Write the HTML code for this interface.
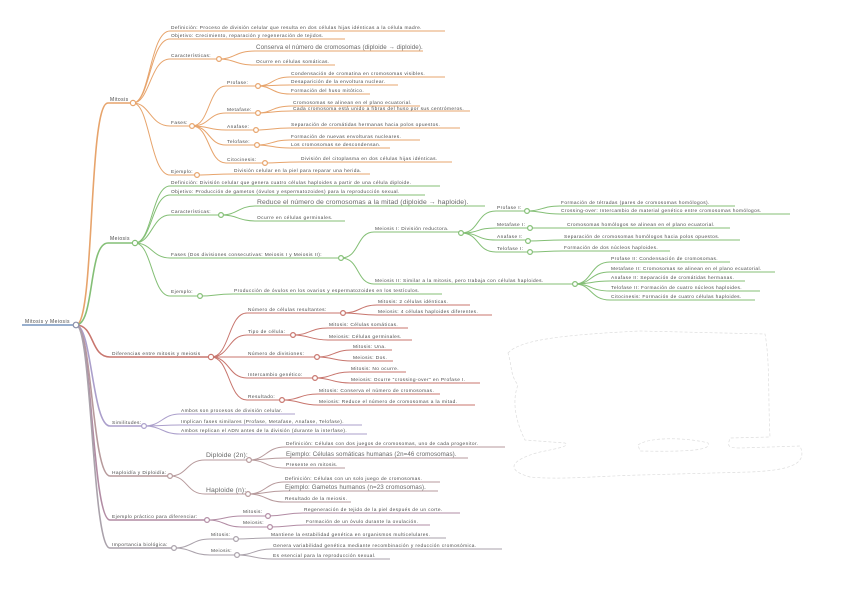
<!DOCTYPE html>
<html><head><meta charset="utf-8">
<style>
html,body{margin:0;padding:0;background:#fff;}
svg{display:block;}
text{font-family:"Liberation Sans",sans-serif;font-size:4.8px;letter-spacing:0.42px;fill:#4a4a4a;}
.b{font-size:6.8px;letter-spacing:0.1px;fill:#666;}
.n{font-size:5px;}
path{fill:none;}
circle{fill:#fff;stroke-width:1.2;}
.o path,.o circle{stroke:#e7a46c;}
.g path,.g circle{stroke:#84bf76;}
.r path,.r circle{stroke:#c8766e;}
.p path,.p circle{stroke:#ab9fcb;}
.h path,.h circle{stroke:#b79a9c;}
.e path,.e circle{stroke:#b28ca4;}
.i path,.i circle{stroke:#aaa2ab;}
</style></head>
<body>
<svg width="848" height="600" viewBox="0 0 848 600" xmlns="http://www.w3.org/2000/svg">
<path d="M508 353 C520 340,560 335,640 331 L765 334 C770 360,768 400,770 437 L730 438 C728 445,726 448,740 448 L800 446 C806 460,800 470,750 472 L640 475 C600 476,560 480,530 477 C505 470,510 460,540 452 C560 448,570 446,565 443 L525 440 C515 420,512 400,518 385 C510 375,512 365,508 353 Z" style="stroke:#ddd;stroke-width:0.7;stroke-dasharray:3 2;fill:none"/>
<path d="M638 445 C650 436,690 438,708 443 C712 450,690 452,640 451 Z" style="stroke:#ddd;stroke-width:0.7;stroke-dasharray:3 2;fill:none"/>

<path d="M22 325 H76" style="stroke:#5b7fb0;stroke-width:1.2"/>
<text x="25" y="323" class="n">Mitosis y Meiosis</text>

<g class="o">
<path d="M76 325 C95 325,88 103,108 103 H133" stroke-width="1.6"/>
<text x="110" y="101" class="n">Mitosis</text>
<path d="M133 103 C150 103,150 31,170 31 H445"/><text x="171" y="29">Definición: Proceso de división celular que resulta en dos células hijas idénticas a la célula madre.</text>
<path d="M133 103 C150 103,150 39,170 39 H345"/><text x="171" y="37">Objetivo: Crecimiento, reparación y regeneración de tejidos.</text>
<path d="M133 103 C150 103,150 59,170 59 H219"/><text x="171" y="57">Características:</text>
<path d="M219 59 C235 59,235 51,255 51 H423"/><text x="256" y="49" class="b" style="font-size:6.2px">Conserva el número de cromosomas (diploide → diploide).</text>
<path d="M219 59 C235 59,235 65,255 65 H335"/><text x="256" y="63">Ocurre en células somáticas.</text>
<circle cx="219" cy="59" r="2.4"/>
<path d="M133 103 C150 103,150 126,170 126 H192"/><text x="171" y="124">Fases:</text>
<path d="M192 126 C210 126,208 86,226 86 H258"/><text x="227" y="84">Profase:</text>
<path d="M258 86 C272 86,272 77,290 77 H445"/><text x="291" y="75">Condensación de cromatina en cromosomas visibles.</text>
<path d="M258 86 C272 86,272 85,290 85 H398"/><text x="291" y="83">Desaparición de la envoltura nuclear.</text>
<path d="M258 86 C272 86,272 94,290 94 H370"/><text x="291" y="92">Formación del huso mitótico.</text>
<circle cx="258" cy="86" r="2.4"/>
<path d="M192 126 C210 126,208 113,226 113 H258"/><text x="227" y="111">Metafase:</text>
<path d="M258 113 C272 113,272 106,292 106 H420"/><text x="293" y="104">Cromosomas se alinean en el plano ecuatorial.</text>
<path d="M258 113 C272 113,272 111,292 111 H470"/><text x="293" y="110">Cada cromosoma está unido a fibras del huso por sus centrómeros.</text>
<circle cx="258" cy="113" r="2.4"/>
<path d="M192 126 C210 126,208 130,226 130 H256"/><text x="227" y="128">Anafase:</text>
<path d="M256 130 C270 130,272 128,290 128 H460"/><text x="291" y="126">Separación de cromátidas hermanas hacia polos opuestos.</text>
<circle cx="256" cy="130" r="2.4"/>
<path d="M192 126 C210 126,208 145,226 145 H257"/><text x="227" y="143">Telofase:</text>
<path d="M257 145 C272 145,272 140,290 140 H420"/><text x="291" y="138">Formación de nuevas envolturas nucleares.</text>
<path d="M257 145 C272 145,272 148,290 148 H390"/><text x="291" y="146">Los cromosomas se descondensan.</text>
<circle cx="257" cy="145" r="2.4"/>
<path d="M192 126 C210 126,208 163,226 163 H265"/><text x="227" y="161">Citocinesis:</text>
<path d="M265 163 C280 163,280 162,300 162 H452"/><text x="301" y="160">División del citoplasma en dos células hijas idénticas.</text>
<circle cx="265" cy="163" r="2.4"/>
<circle cx="192" cy="126" r="2.4"/>
<path d="M133 103 C150 103,150 175,170 175 H197"/><text x="171" y="173">Ejemplo:</text>
<path d="M197 175 C212 175,215 174,233 174 H370"/><text x="234" y="172">División celular en la piel para reparar una herida.</text>
<circle cx="197" cy="175" r="2.4"/>
<circle cx="133" cy="103" r="2.6"/>
</g>

<g class="g">
<path d="M76 325 C95 325,88 243,108 243 H135" stroke-width="1.6"/>
<text x="110" y="240" class="n">Meiosis</text>
<path d="M135 243 C152 243,152 186,170 186 H440"/><text x="171" y="184">Definición: División celular que genera cuatro células haploides a partir de una célula diploide.</text>
<path d="M135 243 C152 243,152 195,170 195 H425"/><text x="171" y="193">Objetivo: Producción de gametos (óvulos y espermatozoides) para la reproducción sexual.</text>
<path d="M135 243 C152 243,152 215,170 215 H221"/><text x="171" y="213">Características:</text>
<path d="M221 215 C238 215,238 206,256 206 H485"/><text x="257" y="204" class="b">Reduce el número de cromosomas a la mitad (diploide → haploide).</text>
<path d="M221 215 C238 215,238 221,256 221 H345"/><text x="257" y="219">Ocurre en células germinales.</text>
<circle cx="221" cy="215" r="2.4"/>
<path d="M135 243 C152 243,152 258,170 258 H341"/><text x="171" y="256">Fases (Dos divisiones consecutivas: Meiosis I y Meiosis II):</text>
<path d="M341 258 C360 258,356 232,374 232 H461"/><text x="375" y="230">Meiosis I: División reductora.</text>
<path d="M461 233 C480 233,476 211,496 211 H527"/><text x="497" y="209">Profase I:</text>
<path d="M527 211 C542 211,542 206,560 206 H735"/><text x="561" y="204">Formación de tétradas (pares de cromosomas homólogos).</text>
<path d="M527 211 C542 211,542 214,560 214 H790"/><text x="561" y="212">Crossing-over: Intercambio de material genético entre cromosomas homólogos.</text>
<circle cx="527" cy="211" r="2.4"/>
<path d="M461 233 C480 233,476 228,496 228 H530"/><text x="497" y="226">Metafase I:</text>
<path d="M530 228 C546 228,548 228,566 228 H730"/><text x="567" y="226">Cromosomas homólogos se alinean en el plano ecuatorial.</text>
<circle cx="530" cy="228" r="2.4"/>
<path d="M461 233 C480 233,476 240,496 240 H528"/><text x="497" y="238">Anafase I:</text>
<path d="M528 241 C544 241,545 240,563 240 H740"/><text x="564" y="238">Separación de cromosomas homólogos hacia polos opuestos.</text>
<circle cx="528" cy="241" r="2.4"/>
<path d="M461 233 C480 233,476 252,496 252 H530"/><text x="497" y="250">Telofase I:</text>
<path d="M530 252 C546 252,545 251,563 251 H670"/><text x="564" y="249">Formación de dos núcleos haploides.</text>
<circle cx="530" cy="252" r="2.4"/>
<circle cx="461" cy="233" r="2.4"/>
<path d="M341 258 C360 258,356 284,374 284 H575"/><text x="375" y="282">Meiosis II: Similar a la mitosis, pero trabaja con células haploides.</text>
<path d="M575 284 C592 284,590 262,610 262 H730"/><text x="611" y="260">Profase II: Condensación de cromosomas.</text>
<path d="M575 284 C592 284,590 272,610 272 H775"/><text x="611" y="270">Metafase II: Cromosomas se alinean en el plano ecuatorial.</text>
<path d="M575 284 C592 284,590 281,610 281 H745"/><text x="611" y="279">Anafase II: Separación de cromátidas hermanas.</text>
<path d="M575 284 C592 284,590 291,610 291 H760"/><text x="611" y="289">Telofase II: Formación de cuatro núcleos haploides.</text>
<path d="M575 284 C592 284,590 300,610 300 H755"/><text x="611" y="298">Citocinesis: Formación de cuatro células haploides.</text>
<circle cx="575" cy="284" r="2.4"/>
<circle cx="341" cy="258" r="2.4"/>
<path d="M135 243 C152 243,152 296,170 296 H200"/><text x="171" y="293">Ejemplo:</text>
<path d="M200 296 C215 296,215 294,233 294 H442"/><text x="234" y="292">Producción de óvulos en los ovarios y espermatozoides en los testículos.</text>
<circle cx="200" cy="296" r="2.4"/>
<circle cx="135" cy="243" r="2.6"/>
</g>

<g class="r">
<path d="M76 325 C95 325,90 357,110 357 H211" stroke-width="1.6"/>
<text x="112" y="355">Diferencias entre mitosis y meiosis</text>
<path d="M211 357 C230 357,228 313,247 313 H343"/><text x="248" y="311">Número de células resultantes:</text>
<path d="M343 313 C360 313,360 305,377 305 H470"/><text x="378" y="303">Mitosis: 2 células idénticas.</text>
<path d="M343 313 C360 313,360 315,377 315 H492"/><text x="378" y="313">Meiosis: 4 células haploides diferentes.</text>
<circle cx="343" cy="313" r="2.4"/>
<path d="M211 357 C230 357,228 335,247 335 H293"/><text x="248" y="333">Tipo de célula:</text>
<path d="M293 335 C310 335,310 328,328 328 H408"/><text x="329" y="326">Mitosis: Células somáticas.</text>
<path d="M293 335 C310 335,310 340,328 340 H412"/><text x="329" y="338">Meiosis: Células germinales.</text>
<circle cx="293" cy="335" r="2.4"/>
<path d="M211 357 C230 357,228 357,247 357 H317"/><text x="248" y="355">Número de divisiones:</text>
<path d="M317 357 C334 357,334 350,352 350 H392"/><text x="353" y="348">Mitosis: Una.</text>
<path d="M317 357 C334 357,334 361,352 361 H393"/><text x="353" y="359">Meiosis: Dos.</text>
<circle cx="317" cy="357" r="2.4"/>
<path d="M211 357 C230 357,228 378,247 378 H315"/><text x="248" y="376">Intercambio genético:</text>
<path d="M315 378 C332 378,332 372,350 372 H406"/><text x="351" y="370">Mitosis: No ocurre.</text>
<path d="M315 378 C332 378,332 383,350 383 H480"/><text x="351" y="381">Meiosis: Ocurre "crossing-over" en Profase I.</text>
<circle cx="315" cy="378" r="2.4"/>
<path d="M211 357 C230 357,228 400,247 400 H282"/><text x="248" y="398">Resultado:</text>
<path d="M282 400 C300 400,300 394,318 394 H440"/><text x="319" y="392">Mitosis: Conserva el número de cromosomas.</text>
<path d="M282 400 C300 400,300 405,318 405 H475"/><text x="319" y="403">Meiosis: Reduce el número de cromosomas a la mitad.</text>
<circle cx="282" cy="400" r="2.4"/>
<circle cx="211" cy="357" r="2.6"/>
</g>

<g class="p">
<path d="M76 325 C92 325,92 426,110 426 H144" stroke-width="1.6"/>
<text x="112" y="424">Similitudes:</text>
<path d="M144 426 C162 426,162 414,180 414 H295"/><text x="181" y="412">Ambos son procesos de división celular.</text>
<path d="M144 426 C162 426,162 425,180 425 H362"/><text x="181" y="423">Implican fases similares (Profase, Metafase, Anafase, Telofase).</text>
<path d="M144 426 C162 426,162 434,180 434 H367"/><text x="181" y="432">Ambos replican el ADN antes de la división (durante la interfase).</text>
<circle cx="144" cy="426" r="2.4"/>
</g>

<g class="h">
<path d="M76 325 C92 325,92 476,110 476 H170" stroke-width="1.6"/>
<text x="112" y="474">Haploidía y Diploidía:</text>
<path d="M170 476 C188 476,186 460,205 460 H249"/><text x="206" y="457" class="b">Diploide (2n):</text>
<path d="M249 460 C266 460,266 447,285 447 H505"/><text x="286" y="445">Definición: Células con dos juegos de cromosomas, uno de cada progenitor.</text>
<path d="M249 460 C266 460,266 458,285 458 H468"/><text x="286" y="456" class="b" style="font-size:6.2px">Ejemplo: Células somáticas humanas (2n=46 cromosomas).</text>
<path d="M249 460 C266 460,266 468,285 468 H345"/><text x="286" y="466">Presente en mitosis.</text>
<circle cx="249" cy="460" r="2.4"/>
<path d="M170 476 C188 476,186 494,205 494 H248"/><text x="206" y="492" class="b">Haploide (n):</text>
<path d="M248 494 C266 494,266 482,284 482 H440"/><text x="285" y="480">Definición: Células con un solo juego de cromosomas.</text>
<path d="M248 494 C266 494,266 491,284 491 H438"/><text x="285" y="489" class="b" style="font-size:6.2px">Ejemplo: Gametos humanos (n=23 cromosomas).</text>
<path d="M248 494 C266 494,266 502,284 502 H351"/><text x="285" y="500">Resultado de la meiosis.</text>
<circle cx="248" cy="494" r="2.4"/>
<circle cx="170" cy="476" r="2.4"/>
</g>

<g class="e">
<path d="M76 325 C92 325,92 520,110 520 H207" stroke-width="1.6"/>
<text x="112" y="518">Ejemplo práctico para diferenciar:</text>
<path d="M207 520 C225 520,224 516,242 516 H268"/><text x="243" y="513">Mitosis:</text>
<path d="M268 516 C285 516,285 513,303 513 H460"/><text x="304" y="511">Regeneración de tejido de la piel después de un corte.</text>
<circle cx="268" cy="516" r="2.4"/>
<path d="M207 520 C225 520,224 527,242 527 H270"/><text x="243" y="524">Meiosis:</text>
<path d="M270 527 C288 527,288 525,305 525 H430"/><text x="306" y="523">Formación de un óvulo durante la ovulación.</text>
<circle cx="270" cy="527" r="2.4"/>
<circle cx="207" cy="520" r="2.4"/>
</g>

<g class="i">
<path d="M76 325 C92 325,92 548,110 548 H174" stroke-width="1.6"/>
<text x="112" y="546">Importancia biológica:</text>
<path d="M174 548 C192 548,192 539,210 539 H236"/><text x="211" y="536">Mitosis:</text>
<path d="M236 539 C252 539,252 538,270 538 H446"/><text x="271" y="536">Mantiene la estabilidad genética en organismos multicelulares.</text>
<circle cx="236" cy="539" r="2.4"/>
<path d="M174 548 C192 548,192 555,210 555 H237"/><text x="211" y="552">Meiosis:</text>
<path d="M237 555 C254 555,254 549,272 549 H502"/><text x="273" y="547">Genera variabilidad genética mediante recombinación y reducción cromosómica.</text>
<path d="M237 555 C254 555,254 559,272 559 H390"/><text x="273" y="557">Es esencial para la reproducción sexual.</text>
<circle cx="237" cy="555" r="2.4"/>
<circle cx="174" cy="548" r="2.4"/>
</g>

<circle cx="76" cy="325" r="2.8" style="fill:#fff;stroke:#8a8fa8;stroke-width:1.2"/>
</svg>
</body></html>
